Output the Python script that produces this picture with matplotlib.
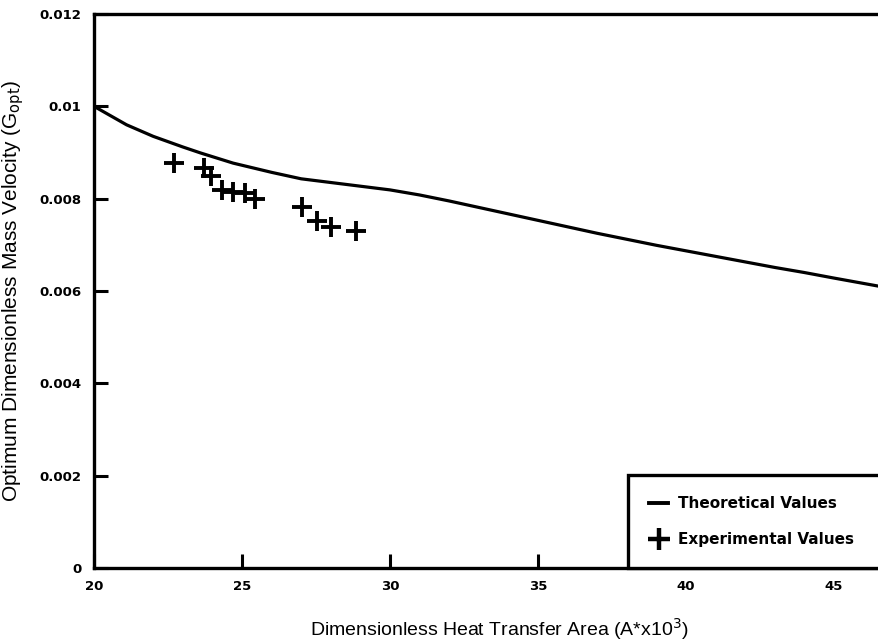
import matplotlib
matplotlib.use("Agg")
import matplotlib.pyplot as plt
from matplotlib.lines import Line2D

# Theoretical curve
area_theory = [20, 21.1, 22, 23, 23.6, 24.7, 26, 27, 28, 29, 30, 31, 32, 33, 34, 35, 36, 37, 38, 39,
               40, 41, 42, 43, 44, 45, 46.55]
gopt_theory = [0.0100, 0.0096, 0.00935, 0.00912, 0.00899, 0.00877, 0.00857, 0.00843, 0.00835, 0.00827,
               0.00819, 0.00808, 0.00795, 0.00781, 0.00767, 0.00753, 0.00739, 0.00725, 0.00712, 0.00699,
               0.00687, 0.00675, 0.00663, 0.00651, 0.00640, 0.00628, 0.00610]

# Experimental points
area_exp = [22.71, 23.72, 23.95, 24.32, 24.70, 25.10, 25.44, 27.03, 27.53, 28.01, 28.85]
gopt_exp = [0.00878, 0.00866, 0.00850, 0.00819, 0.00814, 0.00813, 0.00800, 0.00782, 0.00751, 0.00739, 0.00729]

xticks = [20, 25, 30, 35, 40, 45]
yticks = [0, 0.002, 0.004, 0.006, 0.008, 0.01, 0.012]
ytick_labels = ["0", "0.002", "0.004", "0.006", "0.008", "0.01", "0.012"]

plt.rcParams['font.family'] = ['Liberation Sans', 'DejaVu Sans']

fig = plt.figure(figsize=(8.79, 6.41), dpi=100)
ax = fig.add_axes([94 / 879, 1 - 568 / 641, 1 - 94 / 879, (568 - 14) / 641])

ax.plot(area_theory, gopt_theory, color='black', lw=2.3)
ax.plot(area_exp, gopt_exp, linestyle='none', marker='+', color='black', markersize=14, mew=2.8)

ax.set_xlim(20, 20 + (879 - 94) / 29.6)
ax.set_ylim(0, 0.012)

bold = {'family': 'DejaVu Sans', 'weight': 'bold', 'size': 9.5}
ax.set_xticks(xticks)
ax.set_xticklabels([str(t) for t in xticks], fontdict=bold)
ax.set_yticks(yticks)
ax.set_yticklabels(ytick_labels, fontdict=bold)
ax.tick_params(direction='in', length=10, width=2.2, pad=9)

for side in ['left', 'bottom', 'top']:
    ax.spines[side].set_linewidth(2.4)
ax.spines['right'].set_visible(False)

ax.set_xlabel("Dimensionless Heat Transfer Area (A*x10$^3$)", fontsize=14)
ax.set_ylabel("Optimum Dimensionless Mass Velocity (G$_{\\rm opt}$)", fontsize=15)
ax.xaxis.set_label_coords(0.517, -0.087)
ax.yaxis.set_label_coords(-0.086, 0.5)

handles = [Line2D([], [], color='black', lw=2.8),
           Line2D([], [], linestyle='none', marker='+', color='black', markersize=16, mew=3.2)]
leg = ax.legend(handles, ["Theoretical Values", "Experimental Values"], loc='lower left', mode='expand',
                bbox_to_anchor=((628 - 94) / 785, 0, 0.4, 0.2), borderaxespad=0, fancybox=False,
                framealpha=1, edgecolor='black', prop={'family': 'DejaVu Sans', 'weight': 'bold', 'size': 11},
                handlelength=1.3, handletextpad=0.6, borderpad=1.35, labelspacing=1.4)
leg.get_frame().set_linewidth(2.4)

fig.savefig("out.png", dpi=100)
